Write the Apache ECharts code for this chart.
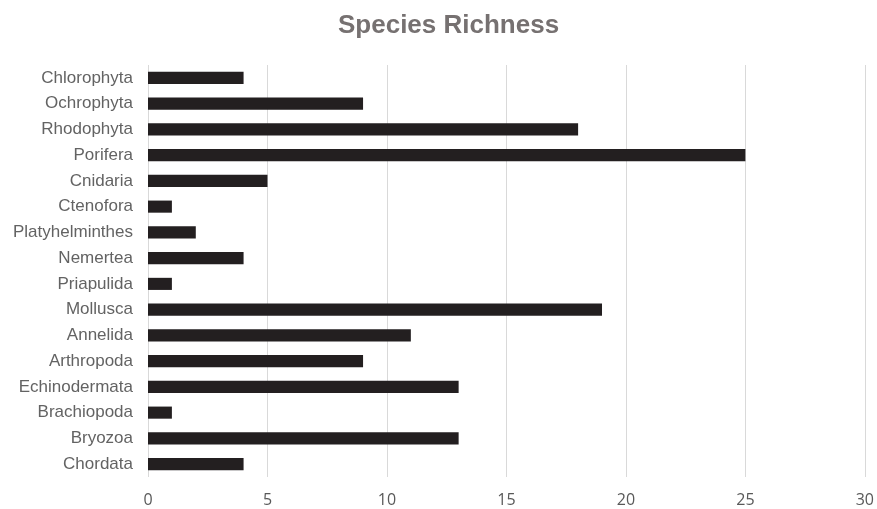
<!DOCTYPE html>
<html>
<head>
<meta charset="utf-8">
<script src="https://cdn.jsdelivr.net/npm/echarts@6/dist/echarts.min.js"></script>
<style>
  html, body { margin: 0; padding: 0; background: #ffffff; }
  #chart { width: 877px; height: 509px; }
</style>
</head>
<body>
<div id="chart"></div>
<script>
// Phyla listed top to bottom as displayed
const phyla = [
  'Chlorophyta', 'Ochrophyta', 'Rhodophyta', 'Porifera', 'Cnidaria',
  'Ctenofora', 'Platyhelminthes', 'Nemertea', 'Priapulida', 'Mollusca',
  'Annelida', 'Arthropoda', 'Echinodermata', 'Brachiopoda', 'Bryozoa', 'Chordata'
];
// Number of species recorded per phylum
const speciesCount = [4, 9, 18, 25, 5, 1, 2, 4, 1, 19, 11, 9, 13, 1, 13, 4];
// Value axis ticks
const xTicks = [0, 5, 10, 15, 20, 25, 30];

const chart = echarts.init(document.getElementById('chart'));
chart.setOption({
  animation: false,
  title: {
    text: 'Species Richness',
    left: 333,
    top: 8,
    textStyle: {
      fontFamily: '"Liberation Sans", Arial, sans-serif',
      fontSize: 26,
      fontWeight: 'bold',
      color: '#767171'
    }
  },
  grid: { left: 148, right: 9, top: 65, bottom: 32 },
  xAxis: {
    type: 'value',
    min: xTicks[0],
    max: xTicks[xTicks.length - 1],
    interval: 5,
    axisLine: { show: false },
    axisTick: { show: false },
    axisLabel: {
      margin: 15,
      fontFamily: '"Open Sans", Calibri, sans-serif',
      fontSize: 16,
      color: '#595959'
    },
    splitLine: { show: true, lineStyle: { color: '#d9d9d9', width: 1 } }
  },
  yAxis: {
    type: 'category',
    data: phyla,
    inverse: true,
    axisLine: { show: false },
    axisTick: { show: false },
    axisLabel: {
      margin: 15,
      fontFamily: '"Liberation Sans", Arial, sans-serif',
      fontSize: 17,
      color: '#636363'
    }
  },
  series: [{
    type: 'bar',
    data: speciesCount,
    barWidth: '47%',
    itemStyle: { color: '#231f20' }
  }]
});
</script>
</body>
</html>
